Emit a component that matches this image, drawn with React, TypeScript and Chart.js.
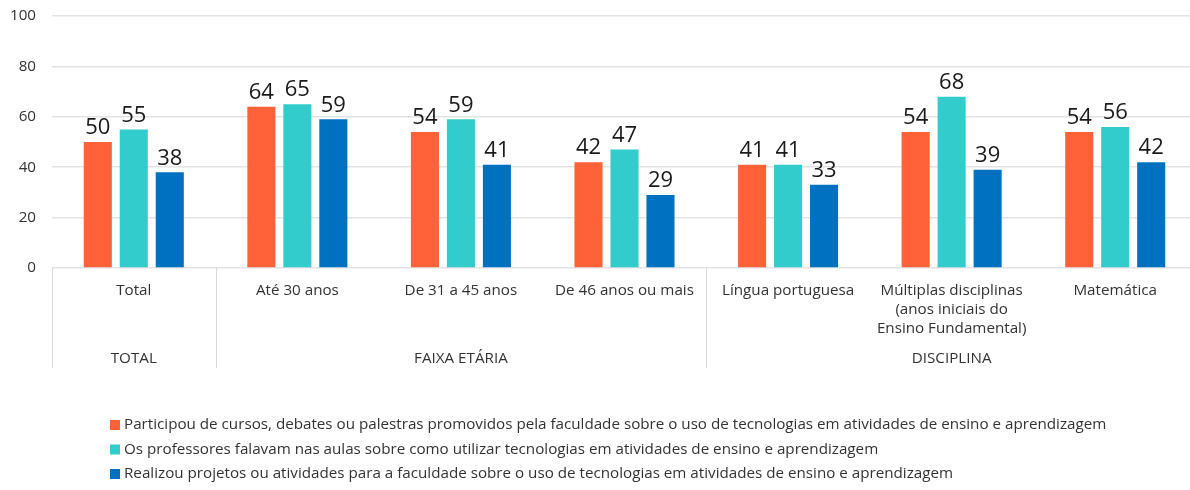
import React, { useEffect, useRef } from "react";
import { Chart, registerables } from "chart.js";

Chart.register(...registerables);

const categoryLines: string[][] = [
  ["Total"],
  ["Até 30 anos"],
  ["De 31 a 45 anos"],
  ["De 46 anos ou mais"],
  ["Língua portuguesa"],
  ["Múltiplas disciplinas", "(anos iniciais do", "Ensino Fundamental)"],
  ["Matemática"],
];

const groupLabels = ["TOTAL", "FAIXA ETÁRIA", "DISCIPLINA"];
const groupStart = [0, 1, 4];
const groupEnd = [0, 3, 6];

const seriesNames = [
  "Participou de cursos, debates ou palestras promovidos pela faculdade sobre o uso de tecnologias em atividades de ensino e aprendizagem",
  "Os professores falavam nas aulas sobre como utilizar tecnologias em atividades de ensino e aprendizagem",
  "Realizou projetos ou atividades para a faculdade sobre o uso de tecnologias em atividades de ensino e aprendizagem",
];

const participou = [50, 64, 54, 42, 41, 54, 54];
const professores = [55, 65, 59, 47, 41, 68, 56];
const realizou = [38, 59, 41, 29, 33, 39, 42];

const seriesColors = ["#FF6138", "#33CCCC", "#0070C0"];

const yTicks = [0, 20, 40, 60, 80, 100];

const FONT = "'Open Sans', 'Noto Sans', sans-serif";
const TXT = 15.2;

export default function App() {
  const ref = useRef<HTMLCanvasElement | null>(null);

  useEffect(() => {
    document.body.style.margin = "0";
    const canvas = ref.current;
    if (!canvas) return;

    const overlay = {
      id: "overlay",
      afterDatasetsDraw(chart: any) {
        const ctx = chart.ctx;
        ctx.save();
        ctx.font = `22px ${FONT}`;
        ctx.fillStyle = "#1a1a1a";
        ctx.textAlign = "center";
        ctx.textBaseline = "bottom";
        chart.data.datasets.forEach((ds: any, di: number) => {
          const meta = chart.getDatasetMeta(di);
          meta.data.forEach((bar: any, i: number) => {
            ctx.fillText(String(ds.data[i]), bar.x, bar.y - 3);
          });
        });
        ctx.restore();
      },
      afterDraw(chart: any) {
        const ctx = chart.ctx;
        const x = chart.scales.x;
        const area = chart.chartArea;
        const n = categoryLines.length;
        const step = (area.right - area.left) / n;
        ctx.save();
        ctx.font = `${TXT}px ${FONT}`;
        ctx.fillStyle = "#333333";
        ctx.textAlign = "center";
        ctx.textBaseline = "middle";
        categoryLines.forEach((lines, i) => {
          const cx = x.getPixelForValue(i);
          lines.forEach((ln, li) => {
            ctx.fillText(ln, cx, area.bottom + 23 + li * 19);
          });
        });
        groupLabels.forEach((g, gi) => {
          const cx = (x.getPixelForValue(groupStart[gi]) + x.getPixelForValue(groupEnd[gi])) / 2;
          ctx.fillText(g, cx, area.bottom + 91);
        });
        ctx.strokeStyle = "#d9d9d9";
        ctx.lineWidth = 1;
        groupStart.forEach((s) => {
          const px = Math.round(x.getPixelForValue(s) - step / 2) + 0.5;
          ctx.beginPath();
          ctx.moveTo(px, area.bottom);
          ctx.lineTo(px, area.bottom + 100);
          ctx.stroke();
        });
        ctx.textAlign = "left";
        chart.data.datasets.forEach((ds: any, di: number) => {
          const y = 425 + di * 24.5;
          ctx.fillStyle = ds.backgroundColor;
          ctx.fillRect(110, y - 5, 10, 10);
          ctx.fillStyle = "#333333";
          ctx.fillText(ds.label, 124, y);
        });
        ctx.restore();
      },
    };

    const chart = new Chart(canvas, {
      type: "bar",
      data: {
        labels: categoryLines.map((l) => l.join(" ")),
        datasets: [
          { label: seriesNames[0], data: participou, backgroundColor: seriesColors[0] },
          { label: seriesNames[1], data: professores, backgroundColor: seriesColors[1] },
          { label: seriesNames[2], data: realizou, backgroundColor: seriesColors[2] },
        ],
      },
      options: {
        responsive: false,
        animation: false,
        devicePixelRatio: 1,
        layout: { padding: { top: 16, right: 3, bottom: 0, left: 0 } },
        datasets: {
          bar: { categoryPercentage: 0.66, barPercentage: 0.78 },
        },
        plugins: {
          legend: { display: false },
          tooltip: { enabled: false },
        },
        scales: {
          x: {
            ticks: { display: false },
            grid: { display: false },
            border: { display: false },
            afterFit: (s: any) => {
              s.height = 222;
              s.paddingLeft = 0;
              s.paddingRight = 0;
            },
          },
          y: {
            min: 0,
            max: 100,
            afterBuildTicks: (s: any) => {
              s.ticks = yTicks.map((v) => ({ value: v }));
            },
            ticks: {
              padding: 16,
              color: "#333333",
              font: { family: FONT, size: TXT },
            },
            grid: { color: "#e3e3e3", lineWidth: 1.5, drawTicks: false },
            border: { display: false },
            afterFit: (s: any) => {
              s.width = 52;
              s.paddingTop = 0;
              s.paddingBottom = 0;
            },
          },
        },
      },
      plugins: [overlay],
    });

    return () => chart.destroy();
  }, []);

  return (
    <div style={{ width: 1190, height: 490, overflow: "hidden", background: "#fff" }}>
      <canvas ref={ref} width={1200} height={490} style={{ display: "block" }} />
    </div>
  );
}
